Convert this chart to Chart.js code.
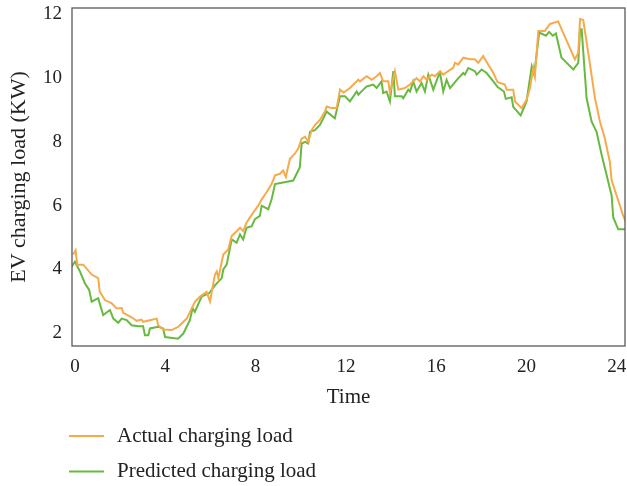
<!DOCTYPE html>
<html>
<head>
<meta charset="utf-8">
<script src="https://cdn.jsdelivr.net/npm/chart.js@4.4.1/dist/chart.umd.min.js"></script>
<style>
  html, body { margin: 0; padding: 0; background: #fff; }
  #wrap { width: 627px; height: 486px; }
</style>
</head>
<body>
<div id="wrap"><canvas id="chart" width="627" height="486"></canvas></div>
<script>
// hours of day and charging load in KW
const actualTime = [-0.08, 0.03, 0.1, 0.37, 0.74, 1.03, 1.1, 1.33, 1.63, 1.85, 2.07, 2.14, 2.51, 2.73, 2.95, 3.02, 3.32, 3.62, 3.69, 3.91, 4.28, 4.57, 4.95, 5.32, 5.54, 5.83, 5.98, 6.2, 6.28, 6.35, 6.57, 6.79, 6.94, 7.16, 7.31, 7.45, 7.6, 7.9, 8.12, 8.27, 8.49, 8.71, 8.86, 9.08, 9.22, 9.34, 9.52, 9.74, 9.89, 10.04, 10.19, 10.33, 10.48, 10.63, 10.85, 11.07, 11.15, 11.37, 11.59, 11.74, 11.9, 12.18, 12.4, 12.55, 12.62, 12.92, 13.14, 13.36, 13.51, 13.65, 13.88, 13.95, 14.17, 14.32, 14.61, 14.84, 14.98, 15.13, 15.28, 15.43, 15.58, 15.8, 15.94, 16.17, 16.31, 16.53, 16.75, 16.83, 16.98, 17.2, 17.49, 17.71, 17.86, 18.08, 18.3, 18.53, 18.72, 19.04, 19.12, 19.41, 19.49, 19.78, 20.0, 20.15, 20.3, 20.37, 20.52, 20.81, 21.04, 21.4, 21.78, 22.14, 22.29, 22.37, 22.51, 22.81, 23.03, 23.25, 23.47, 23.69, 23.77, 23.99, 24.14, 24.28, 24.45]
const actualLoad = [4.47, 4.6, 4.15, 4.15, 3.84, 3.73, 3.3, 3.04, 2.94, 2.78, 2.79, 2.64, 2.5, 2.39, 2.43, 2.36, 2.41, 2.46, 2.25, 2.12, 2.1, 2.2, 2.46, 2.99, 3.15, 3.3, 3.0, 3.84, 3.94, 3.73, 4.47, 4.63, 5.05, 5.2, 5.31, 5.2, 5.47, 5.79, 6.0, 6.2, 6.42, 6.68, 6.95, 7.0, 7.1, 6.9, 7.47, 7.63, 7.79, 8.1, 8.16, 8.0, 8.37, 8.53, 8.69, 8.95, 9.11, 9.06, 9.06, 9.64, 9.55, 9.69, 9.85, 9.95, 9.9, 10.06, 9.95, 10.06, 10.16, 9.9, 9.9, 9.53, 10.22, 9.64, 9.69, 9.8, 9.9, 10.0, 9.9, 10.06, 9.95, 10.11, 10.06, 10.22, 10.11, 10.22, 10.32, 10.48, 10.43, 10.64, 10.59, 10.59, 10.48, 10.69, 10.43, 10.16, 9.87, 9.8, 9.64, 9.64, 9.27, 9.06, 9.32, 9.69, 10.32, 10.06, 11.48, 11.48, 11.7, 11.78, 11.17, 10.59, 10.8, 11.85, 11.82, 10.43, 9.37, 8.64, 8.1, 7.37, 6.79, 6.31, 6.0, 5.68, 5.42]

const predTime = [-0.15, 0.0, 0.22, 0.44, 0.63, 0.74, 1.03, 1.25, 1.55, 1.7, 1.92, 2.07, 2.29, 2.51, 2.8, 3.02, 3.1, 3.25, 3.32, 3.69, 3.91, 3.99, 4.57, 4.8, 5.09, 5.21, 5.31, 5.61, 5.95, 6.2, 6.5, 6.57, 6.72, 6.94, 7.16, 7.31, 7.45, 7.6, 7.83, 7.97, 8.19, 8.27, 8.56, 8.71, 8.86, 9.22, 9.67, 9.96, 10.04, 10.19, 10.33, 10.41, 10.63, 10.85, 11.15, 11.51, 11.74, 11.96, 12.18, 12.48, 12.55, 12.77, 12.92, 13.21, 13.36, 13.58, 13.65, 13.8, 13.95, 14.1, 14.17, 14.47, 14.54, 14.76, 14.84, 14.98, 15.13, 15.35, 15.5, 15.65, 15.87, 16.09, 16.17, 16.31, 16.46, 16.61, 16.98, 17.2, 17.27, 17.42, 17.57, 17.71, 17.79, 18.01, 18.23, 18.53, 18.72, 19.0, 19.08, 19.34, 19.41, 19.74, 20.0, 20.23, 20.34, 20.56, 20.86, 21.0, 21.16, 21.3, 21.55, 21.78, 22.07, 22.29, 22.37, 22.44, 22.66, 22.88, 23.1, 23.33, 23.55, 23.77, 23.84, 24.06, 24.45]
const predLoad = [4.08, 4.24, 3.94, 3.57, 3.36, 2.99, 3.1, 2.57, 2.73, 2.46, 2.33, 2.46, 2.41, 2.25, 2.22, 2.22, 1.94, 1.94, 2.15, 2.2, 2.15, 1.88, 1.83, 1.99, 2.41, 2.78, 2.67, 3.15, 3.26, 3.5, 3.73, 4.0, 4.15, 4.94, 4.84, 5.1, 4.94, 5.31, 5.36, 5.58, 5.68, 6.0, 5.89, 6.2, 6.68, 6.73, 6.79, 7.21, 7.95, 8.0, 7.95, 8.32, 8.37, 8.53, 8.95, 8.74, 9.43, 9.43, 9.27, 9.58, 9.48, 9.64, 9.74, 9.8, 9.69, 9.9, 9.53, 9.58, 9.27, 10.22, 9.43, 9.43, 9.37, 9.64, 9.58, 9.9, 9.58, 9.85, 9.58, 10.11, 9.64, 10.06, 10.16, 9.58, 9.95, 9.69, 10.0, 10.16, 10.11, 10.32, 10.27, 10.22, 10.11, 10.27, 10.16, 9.9, 9.72, 9.58, 9.35, 9.4, 9.1, 8.83, 9.27, 10.37, 10.11, 11.43, 11.33, 11.45, 11.33, 11.4, 10.64, 10.48, 10.27, 10.48, 11.53, 11.53, 9.37, 8.64, 8.32, 7.58, 6.95, 6.31, 5.63, 5.26, 5.26]

const seriesNames = ['Actual charging load', 'Predicted charging load']
const xTicks = [0, 4, 8, 12, 16, 20, 24]
const yTicks = [2, 4, 6, 8, 10, 12]

const SERIF = '"Liberation Serif", "DejaVu Serif", serif'

const toPoints = (xs, ys) => xs.map((x, i) => ({ x: x, y: ys[i] }))

// box round the plot area
const frame = {
    id: 'frame',
    afterDatasetsDraw(chart) {
        const { ctx, chartArea: a } = chart
        ctx.save()
        ctx.strokeStyle = '#5a5a5a'
        ctx.lineWidth = 1.3
        ctx.strokeRect(a.left, a.top, a.right - a.left, a.bottom - a.top)
        ctx.restore()
    }
}

// legend stacked under the axis, one row per series
const rowLegend = {
    id: 'rowLegend',
    afterDraw(chart) {
        const ctx = chart.ctx
        chart.data.datasets.forEach((ds, i) => {
            const y = 436 + i * 35.5
            ctx.save()
            ctx.strokeStyle = ds.borderColor
            ctx.lineWidth = 2
            ctx.beginPath()
            ctx.moveTo(69, y)
            ctx.lineTo(104, y)
            ctx.stroke()
            ctx.fillStyle = '#222'
            ctx.font = '21px ' + SERIF
            ctx.textBaseline = 'middle'
            ctx.fillText(ds.label, 117, y)
            ctx.restore()
        })
    }
}

const config = {
    type: 'line',
    data: {
        datasets: [
            {
                label: seriesNames[0],
                data: toPoints(actualTime, actualLoad),
                borderColor: '#f5aa4c',
                borderWidth: 2,
                pointRadius: 0,
                tension: 0
            },
            {
                label: seriesNames[1],
                data: toPoints(predTime, predLoad),
                borderColor: '#68b940',
                borderWidth: 2,
                pointRadius: 0,
                tension: 0
            }
        ]
    },
    options: {
        responsive: false,
        animation: false,
        layout: { padding: { left: 0, right: 2, top: 8, bottom: 75 } },
        plugins: {
            legend: { display: false },
            tooltip: { enabled: false }
        },
        scales: {
            x: {
                type: 'linear',
                min: -0.13,
                max: 24.36,
                afterBuildTicks: (scale) => { scale.ticks = xTicks.map(v => ({ value: v })) },
                afterFit: (scale) => {
                    scale.height = 65
                    scale.paddingLeft = 0
                    scale.paddingRight = 0
                },
                grid: { display: false, drawTicks: false },
                border: { display: false },
                ticks: { color: '#222', padding: 10, font: { family: SERIF, size: 19 } },
                title: {
                    display: true,
                    text: 'Time',
                    color: '#222',
                    padding: { top: 0, bottom: 1 },
                    font: { family: SERIF, size: 21 }
                }
            },
            y: {
                min: 1.6,
                max: 12.2,
                afterBuildTicks: (scale) => { scale.ticks = yTicks.map(v => ({ value: v })) },
                afterFit: (scale) => {
                    scale.width = 72
                    scale.paddingTop = 0
                    scale.paddingBottom = 0
                },
                grid: { display: false, drawTicks: false },
                border: { display: false },
                ticks: { color: '#222', padding: 10, font: { family: SERIF, size: 19 } },
                title: {
                    display: true,
                    text: 'EV charging load (KW)',
                    color: '#222',
                    padding: { top: 6, bottom: 0 },
                    font: { family: SERIF, size: 22 }
                }
            }
        }
    },
    plugins: [frame, rowLegend]
}

new Chart(document.getElementById('chart').getContext('2d'), config)
</script>
</body>
</html>
